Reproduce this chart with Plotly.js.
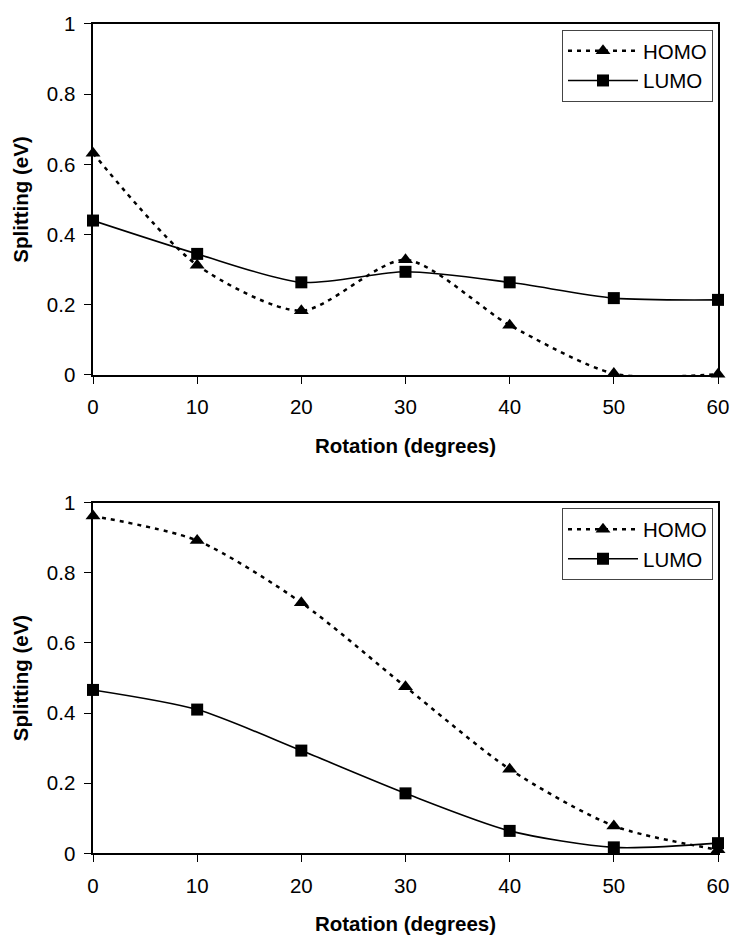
<!DOCTYPE html>
<html>
<head>
<meta charset="utf-8">
<script src="https://cdn.plot.ly/plotly-3.0.1.min.js"></script>
<style>html,body{margin:0;padding:0;background:#fff;}#chart{width:730px;height:937px;}</style>
</head>
<body>
<div id="chart"></div>
<script>
var rotation = [0, 10, 20, 30, 40, 50, 60];
var xTicks = [0, 10, 20, 30, 40, 50, 60];
var yTicks = [0, 0.2, 0.4, 0.6, 0.8, 1];
var yTickLabels = ["0", "0.2", "0.4", "0.6", "0.8", "1"];

// Top panel
var homoTop = [0.632, 0.313, 0.183, 0.328, 0.142, 0.004, 0.002];
var lumoTop = [0.440, 0.345, 0.264, 0.294, 0.264, 0.219, 0.214];
// Bottom panel
var homoBottom = [0.962, 0.892, 0.715, 0.475, 0.240, 0.078, 0.010];
var lumoBottom = [0.466, 0.410, 0.293, 0.171, 0.064, 0.017, 0.029];

var FONT = "Liberation Sans, Arial, sans-serif";
var FS = 20.5;

function homoTrace(y, xa, ya, lg) {
  return {x: rotation, y: y, xaxis: xa, yaxis: ya, name: "HOMO", legend: lg,
    mode: "lines+markers", cliponaxis: false,
    line: {shape: "spline", smoothing: 0.75, color: "#000", width: 2.5, dash: "4px,5px"},
    marker: {symbol: "triangle-up", size: 13, color: "#000"}};
}
function lumoTrace(y, xa, ya, lg) {
  return {x: rotation, y: y, xaxis: xa, yaxis: ya, name: "LUMO", legend: lg,
    mode: "lines+markers", cliponaxis: false,
    line: {shape: "spline", smoothing: 0.75, color: "#000", width: 1.6},
    marker: {symbol: "square", size: 12, color: "#000"}};
}

var data = [
  homoTrace(homoTop, "x", "y", "legend"),
  lumoTrace(lumoTop, "x", "y", "legend"),
  homoTrace(homoBottom, "x2", "y2", "legend2"),
  lumoTrace(lumoBottom, "x2", "y2", "legend2")
];

function xAxis(anchor) {
  return {anchor: anchor, range: [0, 60], tickvals: xTicks, ticks: "outside", ticklen: 7,
    tickcolor: "#000", tickwidth: 1, showline: true, linecolor: "#000", linewidth: 1.6, mirror: true,
    showgrid: false, zeroline: false, ticklabelstandoff: 6,
    tickfont: {family: FONT, size: FS, color: "#000"},
    title: {text: "<b>Rotation (degrees)</b>", font: {family: FONT, size: FS, color: "#000"}, standoff: 21}};
}
function yAxis(anchor, domain) {
  return {anchor: anchor, domain: domain, range: [0, 1], tickvals: yTicks, ticktext: yTickLabels,
    ticks: "outside", ticklen: 7, tickcolor: "#000", tickwidth: 1, showline: true, linecolor: "#000",
    linewidth: 1.6, mirror: true, showgrid: false, zeroline: false, ticklabelstandoff: 5,
    tickfont: {family: FONT, size: FS, color: "#000"},
    title: {text: "<b>Splitting (eV)</b>", font: {family: FONT, size: FS, color: "#000"}, standoff: 12}};
}

function legendBox(y) {
  return {x: 0.992, xanchor: "right", y: y, yanchor: "top", bgcolor: "#fff",
    bordercolor: "#444", borderwidth: 1, font: {family: FONT, size: FS, color: "#000"},
    itemwidth: 70, tracegroupgap: 4};
}

var layout = {
  width: 730, height: 937,
  margin: {l: 93, r: 12, t: 0, b: 0},
  paper_bgcolor: "#fff", plot_bgcolor: "#fff",
  showlegend: true,
  xaxis: xAxis("y"),
  yaxis: yAxis("x", [0.5998, 0.9744]),
  xaxis2: xAxis("y2"),
  yaxis2: yAxis("x2", [0.0893, 0.4635]),
  legend: legendBox(0.968),
  legend2: legendBox(0.4575)
};

Plotly.newPlot("chart", data, layout, {displayModeBar: false, staticPlot: true});
</script>
</body>
</html>
